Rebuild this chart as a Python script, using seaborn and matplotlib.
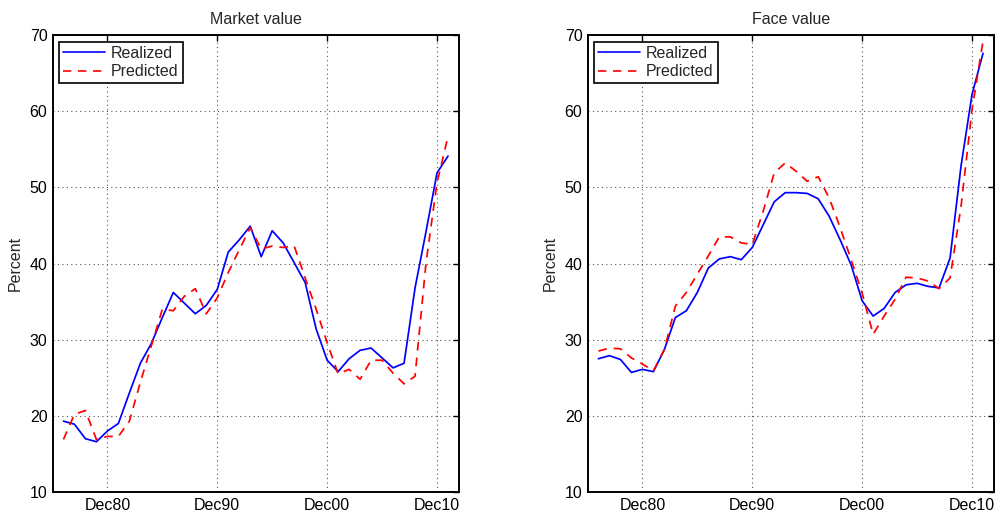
import numpy as np
import pandas as pd
import matplotlib
matplotlib.use("Agg")
import matplotlib.pyplot as plt
from matplotlib.lines import Line2D
import seaborn as sns

years = list(range(1976, 2012))

market_realized = [19.3, 18.9, 17.0, 16.6, 18.0, 19.0, 23.0, 26.9, 29.5, 32.9,
                   36.2, 34.8, 33.4, 34.5, 36.6, 41.5, 43.1, 44.9, 40.9, 44.3,
                   42.7, 40.1, 37.5, 31.4, 27.3, 25.8, 27.5, 28.6, 28.9, 27.6,
                   26.3, 26.9, 36.8, 44.2, 51.9, 54.1]
market_predicted = [16.9, 20.2, 20.7, 16.9, 17.3, 17.3, 19.3, 24.4, 29.2, 34.0,
                    33.8, 35.7, 36.7, 33.4, 35.5, 38.8, 41.8, 44.7, 41.9, 42.3,
                    42.1, 42.3, 38.1, 34.0, 29.6, 25.5, 26.1, 24.8, 27.3, 27.3,
                    25.6, 24.2, 25.2, 40.1, 50.6, 56.7]

face_realized = [27.5, 27.9, 27.4, 25.7, 26.1, 25.8, 28.7, 32.9, 33.8, 36.2,
                 39.4, 40.6, 40.9, 40.5, 42.1, 45.1, 48.1, 49.3, 49.3, 49.2,
                 48.5, 46.2, 43.1, 39.8, 35.1, 33.1, 34.1, 36.2, 37.2, 37.4,
                 37.0, 36.8, 40.7, 52.8, 62.2, 67.6]
face_predicted = [28.5, 28.9, 28.8, 27.6, 26.8, 25.9, 28.7, 34.4, 36.2, 38.6,
                  41.0, 43.5, 43.5, 42.7, 42.5, 46.9, 51.9, 53.2, 52.1, 50.8,
                  51.4, 48.6, 44.7, 40.5, 36.1, 30.7, 33.1, 35.3, 38.2, 38.1,
                  37.7, 36.7, 38.1, 47.5, 60.2, 69.2]

tick_years = [1980, 1990, 2000, 2010]
tick_labels = ["Dec80", "Dec90", "Dec00", "Dec10"]
series_names = ["Realized", "Predicted"]
panel_titles = ["Market value", "Face value"]
y_ticks = [10, 20, 30, 40, 50, 60, 70]

sns.set_style("white")
plt.rcParams['font.family'] = ['Liberation Sans', 'DejaVu Sans']

fig = plt.figure(figsize=(9.97, 5.17), dpi=100)
W, H = 997, 517
ax_l = fig.add_axes([53 / W, (H - 492) / H, 406 / W, 457 / H])
ax_r = fig.add_axes([588 / W, (H - 492) / H, 406 / W, 457 / H])

panels = [(ax_l, market_realized, market_predicted),
          (ax_r, face_realized, face_predicted)]

for (ax, real, pred), title in zip(panels, panel_titles):
    df = pd.DataFrame({
        "year": years * 2,
        "value": real + pred,
        "series": [series_names[0]] * len(years) + [series_names[1]] * len(years),
    })
    sns.lineplot(data=df, x="year", y="value", hue="series", style="series",
                 palette={"Realized": "#0000ff", "Predicted": "#ff0000"},
                 dashes={"Realized": "", "Predicted": (5, 4)},
                 linewidth=1.25, ax=ax, legend=False)
    ax.set_xlim(1975.05, 2012.0)
    ax.set_ylim(10, 70)
    ax.set_xticks(tick_years)
    ax.set_xticklabels(tick_labels)
    ax.set_yticks(y_ticks)
    ax.set_xlabel("")
    ax.set_ylabel("Percent", fontsize=11.5, labelpad=5)
    ax.set_title(title, fontsize=11.5, pad=8)
    ax.grid(True, linestyle=(0, (1, 3)), color="#555555", linewidth=0.8)
    ax.tick_params(direction="in", top=True, right=True, length=4,
                   width=1, labelsize=11.5, colors="black", pad=4)
    for s in ax.spines.values():
        s.set_visible(True)
        s.set_color("black")
        s.set_linewidth(1.4)
    handles = [Line2D([], [], color="#0000ff", lw=1.2),
               Line2D([], [], color="#ff0000", lw=1.2, dashes=(5, 4))]
    leg = ax.legend(handles, series_names, loc="upper left", fontsize=11.5,
                    bbox_to_anchor=(6 / 406, 1 - 7 / 457),
                    frameon=True, fancybox=False, framealpha=1,
                    edgecolor="black", borderaxespad=0, handlelength=2.6,
                    handletextpad=0.4, borderpad=0.25, labelspacing=0.2)
    leg.get_frame().set_linewidth(1.2)

fig.savefig("out.png", dpi=100)
